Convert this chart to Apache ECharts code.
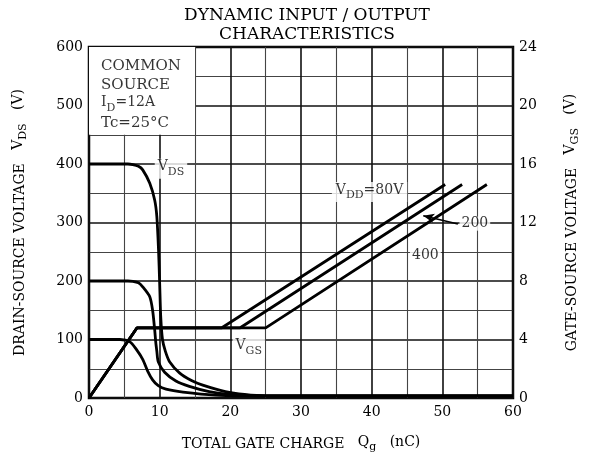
<!DOCTYPE html>
<html>
<head>
<meta charset="utf-8">
<script src="https://cdn.jsdelivr.net/npm/echarts@6/dist/echarts.min.js"></script>
<style>
html, body { margin: 0; background: #fff; }
#chart { width: 589px; height: 458px; }
</style>
</head>
<body>
<div id="chart"></div>
<script>
// drain-source voltage (V) against total gate charge (nC), one curve per V_DD
const vds400 = [[0,400],[5.5,400],[6.2,399],[7.0,396],[7.6,390],[8.6,367],[9.3,338],[9.6,310],[9.84,253],[10.0,196],[10.15,139],[10.4,100],[10.8,80],[11.4,62],[12.8,43],[14.5,30],[16.1,22],[19.3,11],[22,6],[25,3.5],[60,3.5]];
const vds200 = [[0,200],[5.5,200],[6.2,199.5],[7.0,197],[7.6,190],[8.6,173],[9.0,150],[9.3,116],[9.45,95],[9.6,80],[9.8,62],[10.7,44],[12.3,29],[14.2,20],[17,11],[20,6],[25,3.5],[60,3.5]];
const vds100 = [[0,100],[4.4,100],[5.8,96],[6.7,83],[7.6,66],[8.3,46],[9.0,31],[9.8,21],[10.9,15],[13.3,10],[17.9,5],[25,3.5],[60,3.5]];

// gate-source voltage (V) against total gate charge (nC)
const vgs80 = [[0,0],[6.8,4.8],[18.8,4.8],[50.4,14.6]];
const vgs200 = [[0,0],[6.8,4.8],[21.4,4.8],[52.8,14.6]];
const vgs400 = [[0,0],[6.8,4.8],[25,4.8],[56.3,14.6]];

const qgTicks = [0, 10, 20, 30, 40, 50, 60];
const vdsTicks = [0, 100, 200, 300, 400, 500, 600];
const vgsTicks = [0, 4, 8, 12, 16, 20, 24];

const FONT = '"DejaVu Serif", "Liberation Serif", serif';

const subRich = {
    v: { fontFamily: FONT, fontSize: 14, color: '#000', verticalAlign: 'bottom', padding: [0, 0, 4, 0] },
    s: { fontFamily: FONT, fontSize: 11, color: '#000', verticalAlign: 'bottom' },
    t: { fontFamily: FONT, fontSize: 14, color: '#000', verticalAlign: 'bottom', padding: [0, 0, 4, 0] }
};

const chart = echarts.init(document.getElementById('chart'));

function curve(data, yAxisIndex) {
    return {
        type: 'line',
        data: data,
        yAxisIndex: yAxisIndex,
        showSymbol: false,
        smooth: yAxisIndex === 0 ? 0.25 : false,
        lineStyle: { color: '#000', width: 2.8 },
        z: 3,
        silent: true,
        animation: false
    };
}

function note(x, y, text, extra) {
    return {
        value: [x, y],
        label: Object.assign({
            show: true,
            position: 'inside',
            formatter: text,
            backgroundColor: '#fff',
            padding: [1, 3],
            rich: subRich,
            fontFamily: FONT,
            fontSize: 14,
            color: '#000'
        }, extra || {})
    };
}

const axisLabelStyle = { color: '#000', fontFamily: FONT, fontSize: 14 };

chart.setOption({
    animation: false,
    title: {
        text: 'DYNAMIC INPUT / OUTPUT\nCHARACTERISTICS',
        left: 302,
        textAlign: 'center',
        top: 1,
        textStyle: { fontFamily: FONT, fontSize: 17, fontWeight: 'normal', color: '#000', lineHeight: 19 }
    },
    grid: {
        left: 89, right: 73, top: 47, bottom: 60,
        show: true, borderColor: '#000', borderWidth: 2.5
    },
    xAxis: {
        type: 'value', min: 0, max: 60, interval: 10,
        name: 'TOTAL GATE CHARGE   {v|Q}{s|g}   {t|(nC)}',
        nameLocation: 'middle', nameGap: 37,
        nameTextStyle: { fontFamily: FONT, fontSize: 14, color: '#000', rich: subRich },
        axisLine: { show: false },
        axisTick: { show: false },
        axisLabel: Object.assign({ margin: 7, formatter: v => qgTicks.includes(v) ? String(v) : '' }, axisLabelStyle),
        splitLine: { lineStyle: { color: '#111', width: 1.6 } },
        minorTick: { show: false, splitNumber: 2 },
        minorSplitLine: { show: true, lineStyle: { color: '#444', width: 1.1 } }
    },
    yAxis: [{
        type: 'value', min: 0, max: 600, interval: 100,
        name: 'DRAIN-SOURCE VOLTAGE   {v|V}{s|DS}   {t|(V)}',
        nameLocation: 'middle', nameGap: 60, nameRotate: 90,
        nameTextStyle: { fontFamily: FONT, fontSize: 14, color: '#000', rich: subRich },
        axisLine: { show: false },
        axisTick: { show: false },
        axisLabel: Object.assign({ margin: 6, formatter: v => vdsTicks.includes(v) ? String(v) : '' }, axisLabelStyle),
        splitLine: { lineStyle: { color: '#111', width: 1.6 } },
        minorTick: { show: false, splitNumber: 2 },
        minorSplitLine: { show: true, lineStyle: { color: '#444', width: 1.1 } }
    }, {
        type: 'value', min: 0, max: 24, interval: 4, position: 'right',
        name: 'GATE-SOURCE VOLTAGE   {v|V}{s|GS}   {t|(V)}',
        nameLocation: 'middle', nameGap: 50, nameRotate: 90,
        nameTextStyle: { fontFamily: FONT, fontSize: 14, color: '#000', rich: subRich },
        axisLine: { show: false },
        axisTick: { show: false },
        axisLabel: Object.assign({ margin: 6, formatter: v => vgsTicks.includes(v) ? String(v) : '' }, axisLabelStyle),
        splitLine: { show: false }
    }],
    series: [
        // white panel behind the test conditions
        {
            type: 'line', data: [], yAxisIndex: 0, silent: true,
            markArea: {
                silent: true,
                itemStyle: { color: '#fff', opacity: 1 },
                data: [[{ coord: [0, 450] }, { coord: [15, 600] }]]
            },
            z: 2
        },
        curve(vds400, 0),
        curve(vds200, 0),
        curve(vds100, 0),
        curve(vgs80, 1),
        curve(vgs200, 1),
        curve(vgs400, 1),
        // arrow from the "200" label to its line
        {
            type: 'line', data: [], yAxisIndex: 0, silent: true,
            markLine: {
                silent: true, animation: false,
                symbol: ['none', 'arrow'], symbolSize: [7, 11],
                label: { show: false },
                lineStyle: { color: '#000', width: 1.6, type: 'solid' },
                data: [[{ coord: [52.2, 297.6] }, { coord: [47.3, 311.5] }]]
            },
            z: 4
        },
        // annotations
        {
            type: 'scatter', yAxisIndex: 0, symbolSize: 0, silent: true, z: 5,
            data: [
                note(11.6, 392, '{v|V}{s|DS}'),
                note(22.6, 86, '{v|V}{s|GS}'),
                note(39.7, 352, '{v|V}{s|DD}{t|=80V}', { padding: [1, 4] }),
                note(54.6, 298, '200', { padding: [0, 2] }),
                note(47.6, 243, '400', { padding: [0, 2] }),
                note(1.0, 592, 'COMMON\nSOURCE\n{v|I}{s|D}{t|=12A}\nTc=25°C', {
                    position: 'insideTopLeft', backgroundColor: 'transparent', padding: 0,
                    fontSize: 15, lineHeight: 19, align: 'left', verticalAlign: 'top'
                })
            ]
        }
    ]
});
</script>
</body>
</html>
